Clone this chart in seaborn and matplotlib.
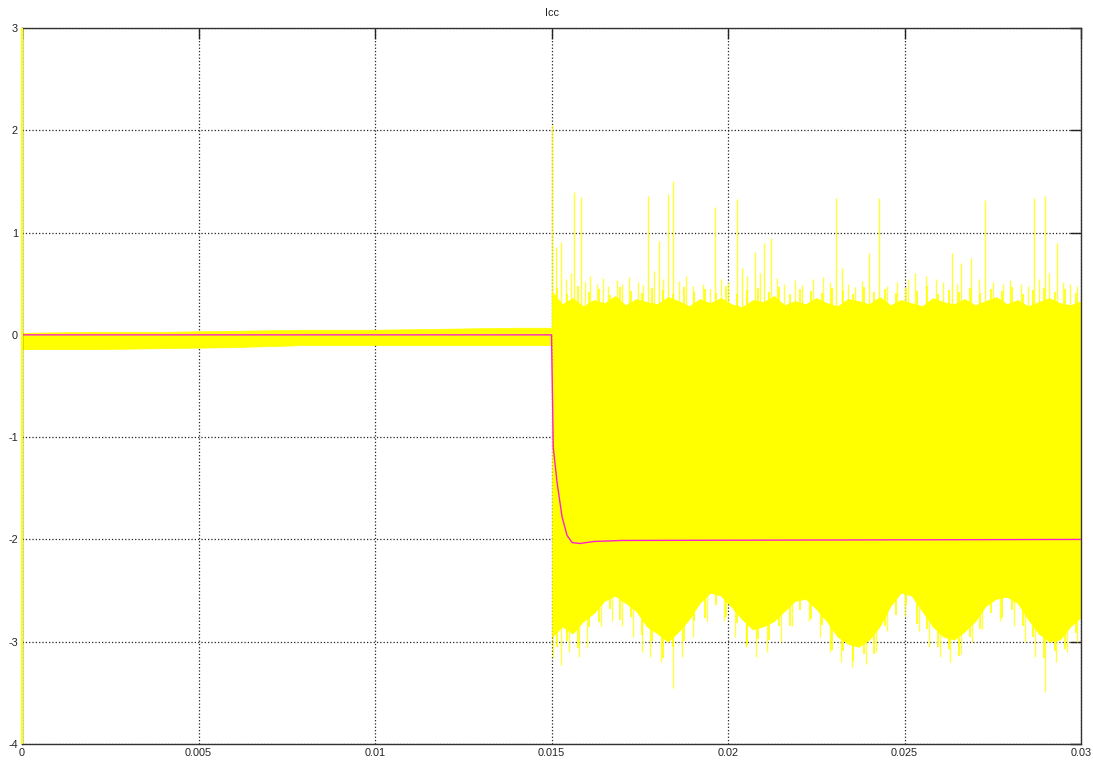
import numpy as np
import matplotlib
matplotlib.use("Agg")
import matplotlib.pyplot as plt
import seaborn as sns

sns.set_theme(style="white")
plt.rcParams['font.family'] = ['Liberation Sans', 'DejaVu Sans']

# times are in ms, converted to s when drawn
# small band before the fault (t < 15 ms)
pre_t = [0, 2, 4, 6, 8, 10, 12, 14, 15.0]
pre_hi = [0.02, 0.03, 0.03, 0.04, 0.05, 0.05, 0.06, 0.07, 0.07]
pre_lo = [-0.14, -0.14, -0.13, -0.12, -0.10, -0.10, -0.10, -0.10, -0.10]

# solid core of the ripple after the fault
post_t = [15.02, 15.3, 15.6, 15.9, 16.2, 16.5, 16.8, 17.1, 17.4, 17.7,
          18.0, 18.3, 18.6, 18.9, 19.2, 19.5, 19.8, 20.1, 20.4, 20.7,
          21.0, 21.3, 21.6, 21.9, 22.2, 22.5, 22.8, 23.1, 23.4, 23.7,
          24.0, 24.3, 24.6, 24.9, 25.2, 25.5, 25.8, 26.1, 26.4, 26.7,
          27.0, 27.3, 27.6, 27.9, 28.2, 28.5, 28.8, 29.1, 29.4, 29.7, 30.0]
post_hi = [0.42, 0.30, 0.36, 0.28, 0.34, 0.31, 0.38, 0.29, 0.35, 0.32,
           0.30, 0.37, 0.33, 0.28, 0.35, 0.31, 0.36, 0.30, 0.27, 0.34,
           0.32, 0.38, 0.29, 0.33, 0.30, 0.36, 0.31, 0.28, 0.35, 0.33,
           0.30, 0.37, 0.29, 0.34, 0.31, 0.28, 0.36, 0.32, 0.30, 0.35,
           0.29, 0.33, 0.37, 0.30, 0.34, 0.28, 0.32, 0.36, 0.31, 0.29, 0.33]
post_lo = [-2.95, -2.85, -2.92, -2.80, -2.72, -2.60, -2.55, -2.62, -2.70, -2.85,
           -2.92, -3.00, -2.90, -2.78, -2.62, -2.52, -2.55, -2.66, -2.78, -2.88,
           -2.85, -2.80, -2.70, -2.60, -2.58, -2.68, -2.80, -2.95, -3.02, -3.05,
           -2.98, -2.85, -2.65, -2.52, -2.55, -2.70, -2.85, -2.95, -2.98, -2.90,
           -2.80, -2.65, -2.58, -2.56, -2.62, -2.78, -2.92, -3.00, -2.98, -2.85, -2.76]

# ragged edge between core samples
fuzz_t = [15.15, 15.45, 15.75, 16.05, 16.35, 16.65, 16.95, 17.25, 17.55, 17.85,
          18.15, 18.45, 18.75, 19.05, 19.35, 19.65, 19.95, 20.25, 20.55, 20.85,
          21.15, 21.45, 21.75, 22.05, 22.35, 22.65, 22.95, 23.25, 23.55, 23.85,
          24.15, 24.45, 24.75, 25.05, 25.35, 25.65, 25.95, 26.25, 26.55, 26.85,
          27.15, 27.45, 27.75, 28.05, 28.35, 28.65, 28.95, 29.25, 29.55, 29.85]
fuzz_hi = [0.46, 0.40, 0.48, 0.42, 0.45, 0.39, 0.47, 0.43, 0.41, 0.46,
           0.44, 0.40, 0.47, 0.42, 0.45, 0.41, 0.48, 0.40, 0.44, 0.46,
           0.42, 0.47, 0.40, 0.45, 0.43, 0.41, 0.46, 0.44, 0.40, 0.47,
           0.42, 0.45, 0.41, 0.46, 0.43, 0.48, 0.40, 0.44, 0.42, 0.46,
           0.41, 0.45, 0.43, 0.47, 0.40, 0.44, 0.46, 0.42, 0.45, 0.41]
fuzz_lo = [-3.05, -2.99, -3.06, -2.86, -2.81, -2.68, -2.79, -2.76, -2.93, -2.99,
           -3.16, -3.05, -2.99, -2.80, -2.77, -2.64, -2.76, -2.82, -3.03, -2.97,
           -2.98, -2.85, -2.85, -2.69, -2.78, -2.84, -3.08, -3.09, -3.19, -3.12,
           -3.12, -2.85, -2.74, -2.64, -2.83, -2.88, -3.05, -3.07, -3.14, -2.95,
           -2.88, -2.72, -2.77, -2.69, -2.85, -2.95, -3.16, -3.09, -3.07, -2.91]

# tall spikes above the band
tall_t = [15.01, 15.13, 15.27, 15.64, 15.84, 17.73, 18.05, 18.30, 18.44, 19.63,
          20.25, 20.40, 20.76, 21.02, 21.22, 23.06, 23.23, 23.99, 24.28, 26.35,
          26.60, 26.88, 27.28, 28.67, 28.98, 29.32]
tall_v = [2.05, 0.86, 0.91, 1.40, 1.35, 1.36, 0.92, 1.38, 1.50, 1.25,
          1.33, 0.65, 0.81, 0.90, 0.95, 1.34, 0.65, 0.80, 1.34, 0.80,
          0.70, 0.75, 1.32, 1.34, 1.36, 0.90]

# smaller spikes on top of the band
up_t = [15.4, 15.55, 15.95, 16.1, 16.3, 16.45, 16.6, 16.85, 17.0, 17.2,
        17.45, 17.6, 17.9, 18.15, 18.6, 18.8, 19.0, 19.3, 19.5, 19.8,
        20.0, 20.55, 20.9, 21.4, 21.6, 21.9, 22.1, 22.4, 22.7, 22.9,
        23.4, 23.6, 23.8, 24.5, 24.8, 25.1, 25.3, 25.6, 25.9, 26.1,
        26.5, 27.1, 27.5, 27.8, 28.0, 28.3, 28.5, 28.8, 29.1, 29.5, 29.7, 29.9]
up_v = [0.55, 0.60, 0.52, 0.58, 0.50, 0.56, 0.48, 0.54, 0.50, 0.57,
        0.52, 0.49, 0.62, 0.55, 0.53, 0.58, 0.48, 0.50, 0.45, 0.55,
        0.52, 0.58, 0.60, 0.56, 0.50, 0.54, 0.49, 0.55, 0.57, 0.52,
        0.50, 0.47, 0.53, 0.48, 0.52, 0.55, 0.60, 0.58, 0.55, 0.52,
        0.50, 0.55, 0.52, 0.50, 0.54, 0.50, 0.48, 0.55, 0.60, 0.52, 0.50, 0.48]

# spikes below the band
low_t = [15.05, 15.27, 15.5, 15.77, 16.0, 16.4, 16.7, 17.0, 17.3, 17.55,
         17.8, 18.1, 18.44, 18.7, 19.0, 19.4, 19.9, 20.2, 20.5, 20.8,
         21.1, 21.5, 21.8, 22.3, 22.6, 22.9, 23.2, 23.5, 23.9, 24.2,
         24.5, 25.0, 25.4, 25.7, 26.0, 26.3, 26.6, 26.9, 27.2, 27.7,
         28.1, 28.4, 28.7, 28.98, 29.3, 29.6, 29.9]
low_v = [-3.15, -3.23, -3.10, -3.15, -3.05, -2.85, -2.80, -2.85, -2.95, -3.10,
         -3.15, -3.20, -3.45, -3.15, -2.95, -2.80, -2.80, -2.95, -3.05, -3.15,
         -3.10, -3.00, -2.85, -2.80, -2.95, -3.10, -3.20, -3.25, -3.22, -3.10,
         -2.90, -2.75, -2.90, -3.05, -3.15, -3.20, -3.12, -3.00, -2.88, -2.80,
         -2.85, -3.00, -3.15, -3.49, -3.20, -3.10, -3.00]

# mean current (magenta)
mean_t = [0, 15.0, 15.05, 15.16, 15.3, 15.44, 15.58, 15.8, 16.2, 17.0, 30.0]
mean_v = [0.0, 0.0, -1.10, -1.45, -1.78, -1.96, -2.03, -2.04, -2.02, -2.01, -2.00]

ms = 1e-3
yel = '#ffff00'

fig = plt.figure(figsize=(10.93, 7.6), dpi=100)
ax = fig.add_axes([22 / 1093, 1 - 744 / 760, (1081 - 22) / 1093, (744 - 28) / 760])

ax.fill_between(np.array(pre_t) * ms, pre_lo, pre_hi, color=yel, lw=0.5, zorder=2)
ax.fill_between(np.array(post_t) * ms, post_lo, post_hi, color=yel, lw=0.5, zorder=2)
ax.vlines(np.array(fuzz_t) * ms, fuzz_lo, fuzz_hi, color=yel, lw=1.2, zorder=2)
ax.vlines(np.array(up_t) * ms, 0, up_v, color=yel, lw=1.0, alpha=0.75, zorder=2)
ax.vlines(np.array(low_t) * ms, -2, low_v, color=yel, lw=1.0, alpha=0.75, zorder=2)
ax.vlines(np.array(tall_t) * ms, 0, tall_v, color=yel, lw=1.0, alpha=0.8, zorder=2)
# initial transient at t=0
ax.vlines([0], -4, 3, color=yel, lw=1.5, zorder=5, clip_on=False)

sns.lineplot(x=np.array(mean_t) * ms, y=mean_v, color='#ff22cc', lw=1.0, ax=ax, zorder=3)

ax.set_xlim(0, 0.03)
ax.set_ylim(-4, 3)
ax.set_xticks([0, 0.005, 0.01, 0.015, 0.02, 0.025, 0.03])
ax.set_xticklabels(['0', '0.005', '0.01', '0.015', '0.02', '0.025', '0.03'])
ax.set_yticks([-4, -3, -2, -1, 0, 1, 2, 3])
ax.set_yticklabels(['-4', '-3', '-2', '-1', '0', '1', '2', '3'])
ax.tick_params(direction='in', length=8, width=1, labelsize=7.8, colors='#222222',
               top=True, right=True, pad=3)
ax.set_axisbelow(True)
ax.grid(True, color='#222222', linestyle=':', lw=0.9)
for s in ax.spines.values():
    s.set_color('#333333')
    s.set_linewidth(1.0)
ax.set_xlabel('')
ax.set_ylabel('')
ax.set_title('Icc', fontsize=7.8, color='#222222', pad=9)

fig.savefig('out.png', dpi=100, facecolor='white')
